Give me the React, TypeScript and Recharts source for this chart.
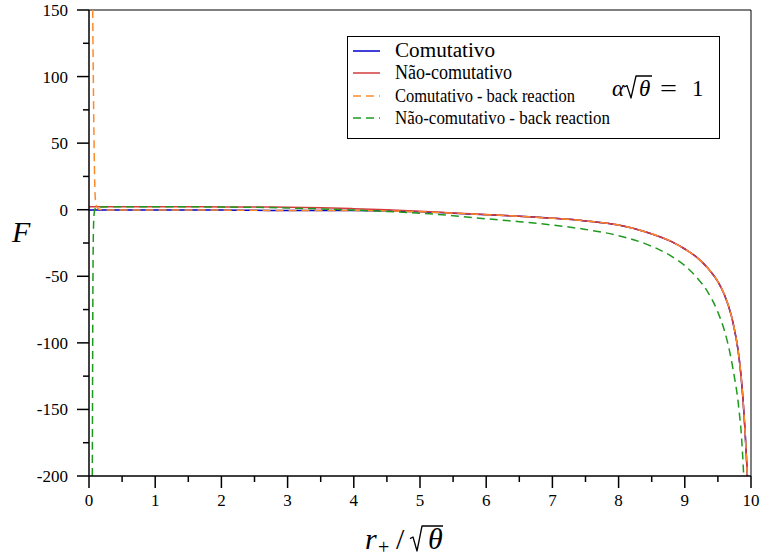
import { LineChart, Line, XAxis, YAxis, ReferenceLine } from 'recharts';

// F(r+) curves, values sampled along r+/sqrt(theta)
const comutativo = [
  { r: 0, F: -0.2 }, { r: 0.5, F: -0.2 }, { r: 1, F: -0.2 }, { r: 1.5, F: -0.3 },
  { r: 2, F: -0.3 }, { r: 2.5, F: -0.4 }, { r: 3, F: -0.6 }, { r: 3.5, F: -0.6 },
  { r: 4, F: -0.5 }, { r: 4.5, F: -0.9 }, { r: 5, F: -1.6 }, { r: 5.5, F: -2.6 },
  { r: 6, F: -3.7 }, { r: 6.5, F: -4.9 }, { r: 7, F: -6.4 }, { r: 7.5, F: -8.4 },
  { r: 8, F: -11.5 }, { r: 8.4, F: -16.5 }, { r: 8.8, F: -24 }, { r: 9, F: -29.5 },
  { r: 9.2, F: -36.5 }, { r: 9.35, F: -44 }, { r: 9.5, F: -54 }, { r: 9.6, F: -64 },
  { r: 9.7, F: -79 }, { r: 9.75, F: -90 }, { r: 9.8, F: -104 }, { r: 9.85, F: -125 },
  { r: 9.88, F: -143 }, { r: 9.91, F: -166 }, { r: 9.93, F: -185 }, { r: 9.945, F: -200 },
];

const naoComutativo = [
  { r: 0, F: 2.2 }, { r: 0.5, F: 2.2 }, { r: 1, F: 2.2 }, { r: 1.5, F: 2.2 },
  { r: 2, F: 2.1 }, { r: 2.5, F: 2.0 }, { r: 3, F: 1.9 }, { r: 3.5, F: 1.5 },
  { r: 4, F: 0.8 }, { r: 4.5, F: -0.1 }, { r: 5, F: -1.2 }, { r: 5.5, F: -2.4 },
  { r: 6, F: -3.6 }, { r: 6.5, F: -4.9 }, { r: 7, F: -6.4 }, { r: 7.5, F: -8.4 },
  { r: 8, F: -11.5 }, { r: 8.4, F: -16.5 }, { r: 8.8, F: -24 }, { r: 9, F: -29.5 },
  { r: 9.2, F: -36.5 }, { r: 9.35, F: -44 }, { r: 9.5, F: -54 }, { r: 9.6, F: -64 },
  { r: 9.7, F: -79 }, { r: 9.75, F: -90 }, { r: 9.8, F: -104 }, { r: 9.85, F: -125 },
  { r: 9.88, F: -143 }, { r: 9.91, F: -166 }, { r: 9.93, F: -185 }, { r: 9.945, F: -200 },
];

const comutativoBack = [
  { r: 0.056, F: 150 }, { r: 0.062, F: 115 }, { r: 0.068, F: 85 }, { r: 0.075, F: 55 },
  { r: 0.082, F: 32 }, { r: 0.09, F: 14 }, { r: 0.1, F: 6 }, { r: 0.115, F: 2.5 },
  { r: 0.135, F: 0.8 }, { r: 0.17, F: 0.1 }, { r: 0.25, F: -0.2 }, { r: 0.5, F: -0.2 },
  { r: 1, F: -0.2 }, { r: 1.5, F: -0.3 }, { r: 2, F: -0.3 }, { r: 2.5, F: -0.4 },
  { r: 3, F: -0.6 }, { r: 3.5, F: -0.6 }, { r: 4, F: -0.5 }, { r: 4.5, F: -0.9 },
  { r: 5, F: -1.6 }, { r: 5.5, F: -2.6 }, { r: 6, F: -3.7 }, { r: 6.5, F: -4.9 },
  { r: 7, F: -6.4 }, { r: 7.5, F: -8.4 }, { r: 8, F: -11.5 }, { r: 8.4, F: -16.5 },
  { r: 8.8, F: -24 }, { r: 9, F: -29.5 }, { r: 9.2, F: -36.5 }, { r: 9.35, F: -44 },
  { r: 9.5, F: -54 }, { r: 9.6, F: -64 }, { r: 9.7, F: -79 }, { r: 9.75, F: -90 },
  { r: 9.8, F: -104 }, { r: 9.85, F: -125 }, { r: 9.88, F: -143 }, { r: 9.91, F: -166 },
  { r: 9.93, F: -185 }, { r: 9.945, F: -200 },
];

const naoComutativoBack = [
  { r: 0.05, F: -200 }, { r: 0.054, F: -130 }, { r: 0.058, F: -70 }, { r: 0.063, F: -30 },
  { r: 0.07, F: -10 }, { r: 0.08, F: -2 }, { r: 0.095, F: 1 }, { r: 0.12, F: 1.9 },
  { r: 0.2, F: 2.1 }, { r: 0.5, F: 2.2 }, { r: 1, F: 2.2 }, { r: 1.5, F: 2.2 },
  { r: 2, F: 2.0 }, { r: 2.5, F: 1.8 }, { r: 3, F: 1.3 }, { r: 3.5, F: 0.6 },
  { r: 4, F: -0.3 }, { r: 4.5, F: -1.3 }, { r: 5, F: -2.6 }, { r: 5.5, F: -4.5 },
  { r: 6, F: -6.8 }, { r: 6.5, F: -9.0 }, { r: 7, F: -11.5 }, { r: 7.5, F: -14.8 },
  { r: 8, F: -19.5 }, { r: 8.4, F: -25.5 }, { r: 8.8, F: -35 }, { r: 9, F: -42 },
  { r: 9.2, F: -52 }, { r: 9.35, F: -62 }, { r: 9.5, F: -77 }, { r: 9.6, F: -91 },
  { r: 9.7, F: -112 }, { r: 9.75, F: -126 }, { r: 9.8, F: -142 }, { r: 9.82, F: -151 },
  { r: 9.85, F: -166 }, { r: 9.87, F: -181 }, { r: 9.89, F: -200 },
];

const xTicks = [0, 0.5, 1, 1.5, 2, 2.5, 3, 3.5, 4, 4.5, 5, 5.5, 6, 6.5, 7, 7.5, 8, 8.5, 9, 9.5, 10];
const yTicks = [-200, -175, -150, -125, -100, -75, -50, -25, 0, 25, 50, 75, 100, 125, 150];

const SERIF = 'Liberation Serif, Times New Roman, serif';
const BLUE = '#0000cc';
const RED = '#d23c3c';
const ORANGE = '#ff8a2a';
const GREEN = '#1f9a1f';

// minor ticks are drawn shorter and without a label
function YTick({ x, y, payload }: any) {
  const major = payload.value % 50 === 0;
  return (
    <g>
      <line x1={x - (major ? 12 : 6)} x2={x} y1={y} y2={y} stroke="#000" strokeWidth={1.5} />
      {major && (
        <text x={x - 21} y={y} dy="0.35em" textAnchor="end" style={{ fontFamily: SERIF, fontSize: 17 }} fill="#000">
          {payload.value}
        </text>
      )}
    </g>
  );
}

function XTick({ x, y, payload }: any) {
  const major = Number.isInteger(payload.value);
  return (
    <g>
      <line x1={x} x2={x} y1={y} y2={y + (major ? 12 : 6)} stroke="#000" strokeWidth={1.5} />
      {major && (
        <text x={x} y={y + 30} textAnchor="middle" style={{ fontFamily: SERIF, fontSize: 17 }} fill="#000">
          {payload.value}
        </text>
      )}
    </g>
  );
}

const legendItems = [
  { label: 'Comutativo', color: BLUE, dash: undefined, y: 51, len: 100, size: 20 },
  { label: 'Não-comutativo', color: RED, dash: undefined, y: 73, len: 117, size: 20 },
  { label: 'Comutativo - back reaction', color: ORANGE, dash: '8 5', y: 96, len: 180, size: 19 },
  { label: 'Não-comutativo - back reaction', color: GREEN, dash: '8 5', y: 118, len: 215, size: 19 },
];

// radical sign: hook, descending stroke, rising stroke, then the bar over the radicand
function Radical({ x, base, top, width }: { x: number; base: number; top: number; width: number }) {
  const h = base - top;
  const d = `M${x},${base - h * 0.45} L${x + 3},${base - h * 0.52} L${x + 7},${base + 2} L${x + 12},${top} L${x + 12 + width},${top}`;
  return <path d={d} fill="none" stroke="#000" strokeWidth={1.3} strokeLinejoin="round" />;
}

function Overlay() {
  return (
    <svg width={762} height={558} style={{ position: 'absolute', left: 0, top: 0, pointerEvents: 'none' }}>
      <rect x={347.5} y={36.5} width={372} height={102} fill="#fff" stroke="#000" strokeWidth={1} />
      {legendItems.map((it) => (
        <g key={it.label}>
          <line x1={353} x2={380} y1={it.y} y2={it.y} stroke={it.color} strokeWidth={1.5} strokeDasharray={it.dash} />
          <text
            x={395}
            y={it.y + 6}
            style={{ fontFamily: SERIF, fontSize: it.size }}
            textLength={it.len}
            lengthAdjust="spacingAndGlyphs"
            fill="#000"
          >
            {it.label}
          </text>
        </g>
      ))}
      {/* alpha sqrt(theta) = 1 */}
      <g style={{ fontFamily: SERIF, fontSize: 23 }} fill="#000">
        <text x={612} y={96} fontStyle="italic">α</text>
        <Radical x={624} base={96} top={76} width={16} />
        <text x={639} y={96} fontStyle="italic">θ</text>
        <text x={660} y={96} textLength={17} lengthAdjust="spacingAndGlyphs">=</text>
        <text x={692} y={96}>1</text>
      </g>
      {/* axis titles */}
      <text x={12} y={242} style={{ fontFamily: SERIF, fontSize: 30, fontStyle: 'italic' }} fill="#000">F</text>
      <g style={{ fontFamily: SERIF }} fill="#000">
        <text x={365} y={549} fontSize={30} fontStyle="italic">r</text>
        <text x={378} y={554} fontSize={20}>+</text>
        <text x={396} y={549} fontSize={30}>/</text>
        <Radical x={410} base={549} top={526} width={21} />
        <text x={428} y={549} fontSize={30} fontStyle="italic">θ</text>
      </g>
    </svg>
  );
}

export default function App() {
  return (
    <div style={{ position: 'absolute', left: 0, top: 0, width: 762, height: 558, background: '#fff' }}>
      <LineChart width={762} height={558} margin={{ top: 10, right: 11, left: 0, bottom: 0 }}>
        <XAxis
          type="number"
          dataKey="r"
          domain={[0, 10]}
          ticks={xTicks}
          interval={0}
          allowDataOverflow
          height={82}
          tickSize={0}
          tickMargin={0}
          tickLine={false}
          tick={<XTick />}
          axisLine={{ stroke: '#000', strokeWidth: 1.5 }}
        />
        <YAxis
          type="number"
          dataKey="F"
          domain={[-200, 150]}
          ticks={yTicks}
          interval={0}
          allowDataOverflow
          width={89}
          tickSize={0}
          tickMargin={0}
          tickLine={false}
          tick={<YTick />}
          axisLine={{ stroke: '#000', strokeWidth: 1.5 }}
        />
        <ReferenceLine y={150} stroke="#000" strokeWidth={1} />
        <ReferenceLine x={10} stroke="#000" strokeWidth={1} />
        <Line data={comutativo} dataKey="F" type="monotone" stroke={BLUE} strokeWidth={1.5} dot={false} isAnimationActive={false} />
        <Line data={naoComutativo} dataKey="F" type="monotone" stroke={RED} strokeWidth={1.5} dot={false} isAnimationActive={false} />
        <Line data={comutativoBack} dataKey="F" type="monotone" stroke={ORANGE} strokeWidth={1.5} strokeDasharray="8 5" dot={false} isAnimationActive={false} />
        <Line data={naoComutativoBack} dataKey="F" type="monotone" stroke={GREEN} strokeWidth={1.5} strokeDasharray="8 5" dot={false} isAnimationActive={false} />
      </LineChart>
      <Overlay />
    </div>
  );
}
